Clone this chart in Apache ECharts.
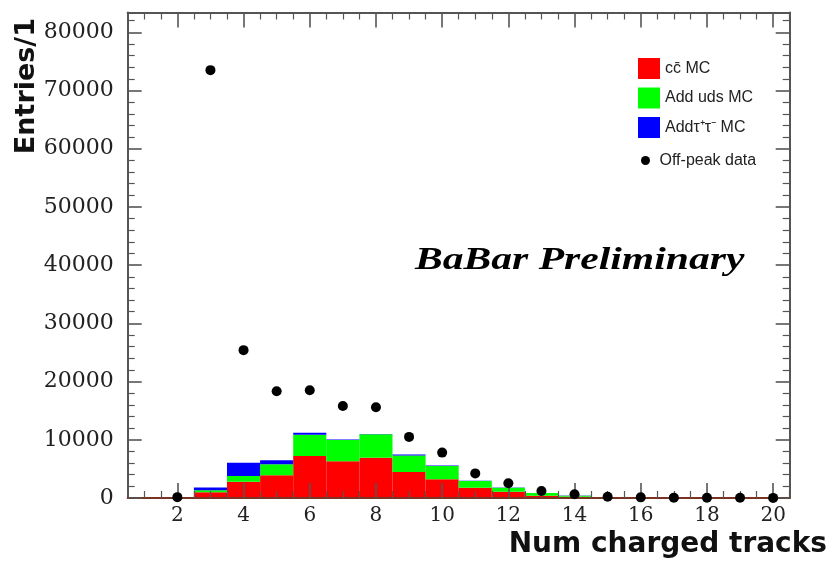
<!DOCTYPE html>
<html>
<head>
<meta charset="utf-8">
<script src="https://cdn.jsdelivr.net/npm/echarts@6/dist/echarts.min.js"></script>
<style>
html,body{margin:0;padding:0;background:#fff;}
#chart{width:833px;height:564px;}
</style>
</head>
<body>
<div id="chart"></div>
<script>
// ---- data ----
const bins = [1,2,3,4,5,6,7,8,9,10,11,12,13,14,15,16,17,18,19,20];
// c cbar MC (red)
const ccMC   = [0,0,1000,2800,3900,7200,6300,6900,4450,3200,1770,1080,400,230,100,60,40,20,10,5];
// added uds MC (green, stacked on top of cc)
const udsAdd = [0,0,350,1000,1900,3650,3650,4050,2850,2300,1130,690,450,170,80,40,40,20,10,5];
// added tau+tau- MC (blue, stacked on top)
const tauAdd = [0,0,450,2250,700,340,120,60,170,90,50,30,20,10,5,0,0,0,0,0];
// off-peak data points
const dataBins = [2,3,4,5,6,7,8,9,10,11,12,13,14,15,16,17,18,19,20];
const offPeak  = [150,73500,25400,18350,18500,15800,15600,10500,7800,4230,2520,1200,630,230,110,60,40,30,20];
// tick values
const xMajor = [2,4,6,8,10,12,14,16,18,20];
const xMinor = [1,1.5,2.5,3,3.5,4.5,5,5.5,6.5,7,7.5,8.5,9,9.5,10.5,11,11.5,12.5,13,13.5,14.5,15,15.5,16.5,17,17.5,18.5,19,19.5,20.5];
const yMajor = [0,10000,20000,30000,40000,50000,60000,70000,80000];
const yMinor = [2000,4000,6000,8000,12000,14000,16000,18000,22000,24000,26000,28000,32000,34000,36000,38000,42000,44000,46000,48000,52000,54000,56000,58000,62000,64000,66000,68000,72000,74000,76000,78000,82000];

const names = ['c\u0063\u0304 MC', 'Add uds MC', 'Add\u03c4\u207a\u03c4\u207b MC', 'Off-peak data'];
const xTitle = 'Num charged tracks';
const yTitle = 'Entries/1';
const watermark = 'BaBar Preliminary';

// ---- build stacked ranges ----
const ccData = [], udsData = [], tauData = [];
bins.forEach((b, i) => {
  const a = ccMC[i], g = a + udsAdd[i], t = g + tauAdd[i];
  ccData.push([b, 0, a]);
  udsData.push([b, a, g]);
  tauData.push([b, g, t]);
});
const scatterData = dataBins.map((b, i) => [b, offPeak[i]]);

function histItem(params, api) {
  const x = api.value(0), y0 = api.value(1), y1 = api.value(2);
  if (y1 <= y0) return null;
  const p0 = api.coord([x - 0.5, y0]);
  const p1 = api.coord([x + 0.5, y1]);
  return {
    type: 'rect',
    shape: {x: p0[0], y: p1[1], width: p1[0] - p0[0], height: p0[1] - p1[1]},
    style: {fill: api.visual('color')}
  };
}

const XMIN = 0.5, XMAX = 20.5, YMIN = 0, YMAX = 83400;
const tickColor = '#555';
const serif = '"DejaVu Serif"';

function xAx(pos, ticks, len, labels, lineShow) {
  return {
    type: 'value', min: XMIN, max: XMAX, position: pos, z: 10,
    axisLine: {show: lineShow, onZero: false, lineStyle: {color: pos === 'bottom' ? '#7a3322' : '#555', width: 2}},
    axisTick: {show: true, inside: true, length: len, customValues: ticks, lineStyle: {color: tickColor, width: len > 10 ? 1.6 : 1.2}},
    axisLabel: labels ? {show: true, customValues: xMajor, formatter: v => String(v), margin: 8,
      fontFamily: serif, fontSize: 20, color: '#222'} : {show: false},
    splitLine: {show: false}
  };
}
function yAx(pos, ticks, len, labels, lineShow) {
  return {
    type: 'value', min: YMIN, max: YMAX, position: pos, z: 10,
    axisLine: {show: lineShow, onZero: false, lineStyle: {color: '#555', width: 2}},
    axisTick: {show: true, inside: true, length: len, customValues: ticks, lineStyle: {color: tickColor, width: len > 10 ? 1.6 : 1.2}},
    axisLabel: labels ? {show: true, customValues: yMajor, formatter: v => String(v), margin: 14,
      fontFamily: serif, fontSize: 22, color: '#222'} : {show: false},
    splitLine: {show: false}
  };
}

const chart = echarts.init(document.getElementById('chart'), null, {renderer: 'canvas'});
chart.setOption({
  animation: false,
  backgroundColor: '#fff',
  grid: {left: 127.7, right: 43.3, top: 12.5, bottom: 66, containLabel: false, outerBoundsMode: 'none'},
  xAxis: [
    xAx('bottom', xMajor, 15, true, true),
    xAx('bottom', xMinor, 7, false, false),
    xAx('top', xMajor, 15, false, true),
    xAx('top', xMinor, 7, false, false)
  ],
  yAxis: [
    yAx('left', yMajor, 14, true, true),
    yAx('left', yMinor, 7, false, false),
    yAx('right', yMajor, 14, false, true),
    yAx('right', yMinor, 7, false, false)
  ],
  legend: [
    {
      orient: 'vertical', left: 633, top: 53, itemWidth: 22, itemHeight: 21, itemGap: 8.5,
      icon: 'rect', data: names.slice(0, 3),
      textStyle: {fontFamily: '"Liberation Sans"', fontSize: 16, color: '#222'}
    },
    {
      orient: 'vertical', left: 636, top: 147.5, itemWidth: 18, itemHeight: 9,
      icon: 'circle', data: [names[3]],
      textStyle: {fontFamily: '"Liberation Sans"', fontSize: 16, color: '#222'}
    }
  ],
  graphic: [
    {
      type: 'text', x: 415, y: 261, scaleX: 1.3, z: 20,
      style: {text: watermark, font: 'italic bold 32px "Liberation Serif"',
        fill: '#000', verticalAlign: 'middle', align: 'left'}
    },
    {
      type: 'text', x: 827, y: 545, z: 20,
      style: {text: xTitle, font: 'bold 28px "DejaVu Sans"', fill: '#111',
        align: 'right', verticalAlign: 'middle'}
    },
    {
      type: 'text', x: 27, y: 18, rotation: Math.PI / 2, z: 20,
      style: {text: yTitle, font: 'bold 27px "DejaVu Sans"', fill: '#111',
        align: 'right', verticalAlign: 'middle'}
    }
  ],
  series: [
    {name: names[0], type: 'custom', renderItem: histItem, data: ccData, xAxisIndex: 0, yAxisIndex: 0,
      itemStyle: {color: '#ff0000'}, encode: {x: 0, y: [1, 2]}, z: 2},
    {name: names[1], type: 'custom', renderItem: histItem, data: udsData, xAxisIndex: 0, yAxisIndex: 0,
      itemStyle: {color: '#00ff00'}, encode: {x: 0, y: [1, 2]}, z: 2},
    {name: names[2], type: 'custom', renderItem: histItem, data: tauData, xAxisIndex: 0, yAxisIndex: 0,
      itemStyle: {color: '#0000ff'}, encode: {x: 0, y: [1, 2]}, z: 2},
    {name: names[3], type: 'scatter', data: scatterData, xAxisIndex: 0, yAxisIndex: 0,
      symbol: 'circle', symbolSize: 10, itemStyle: {color: '#000', opacity: 1}, z: 15}
  ]
});
</script>
</body>
</html>
